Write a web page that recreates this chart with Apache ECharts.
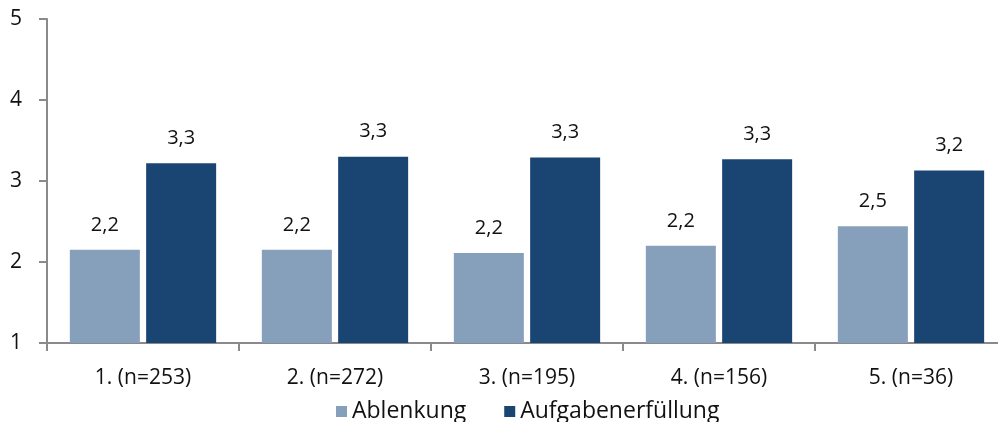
<!DOCTYPE html>
<html><head><meta charset="utf-8">
<script src="https://cdn.jsdelivr.net/npm/echarts@6/dist/echarts.min.js"></script>
<style>html,body{margin:0;padding:0;background:#fff}#c{width:998px;height:422px}</style>
</head><body><div id="c"></div>
<script>
const categories = ['1. (n=253)', '2. (n=272)', '3. (n=195)', '4. (n=156)', '5. (n=36)'];
const seriesNames = ['Ablenkung', 'Aufgabenerfüllung'];
const ablenkung = [2.15, 2.15, 2.11, 2.20, 2.44];
const aufgaben = [3.22, 3.30, 3.29, 3.27, 3.13];
const ablenkungLabels = ['2,2', '2,2', '2,2', '2,2', '2,5'];
const aufgabenLabels = ['3,3', '3,3', '3,3', '3,3', '3,2'];
const yTicks = [1, 2, 3, 4, 5];

const font = '"Open Sans", sans-serif';
const chart = echarts.init(document.getElementById('c'));
function mk(name, vals, labels, color) {
  return {
    name: name, type: 'bar', barWidth: 70, barGap: '9%',
    data: vals,
    itemStyle: { color: color },
    label: { show: true, position: 'top', distance: 15, color: '#111', fontSize: 20, fontFamily: font,
      formatter: p => labels[p.dataIndex] }
  };
}
chart.setOption({
  animation: false,
  grid: { left: 47, width: 960, top: 19, bottom: 79, outerBoundsMode: 'none', containLabel: false },
  legend: {
    data: seriesNames, top: 395, left: 331, itemWidth: 11, itemHeight: 11, itemGap: 38,
    icon: 'rect', textStyle: { fontSize: 23, color: '#111', fontFamily: font }
  },
  xAxis: {
    type: 'category', data: categories,
    axisLine: { lineStyle: { color: '#8a8a8a', width: 2 } },
    axisTick: { show: true, length: 8, lineStyle: { color: '#8a8a8a', width: 2 } },
    axisLabel: { color: '#111', fontSize: 21, fontFamily: font, margin: 25 }
  },
  yAxis: {
    type: 'value', min: yTicks[0], max: yTicks[yTicks.length - 1], interval: 1,
    axisLine: { show: true, lineStyle: { color: '#8a8a8a', width: 2 } },
    axisTick: { show: true, length: 8, lineStyle: { color: '#8a8a8a', width: 2 } },
    splitLine: { show: false },
    axisLabel: { color: '#111', fontSize: 21, fontFamily: font, margin: 25 }
  },
  series: [
    mk(seriesNames[0], ablenkung, ablenkungLabels, '#869fbb'),
    mk(seriesNames[1], aufgaben, aufgabenLabels, '#1a4472')
  ]
});
</script></body></html>
